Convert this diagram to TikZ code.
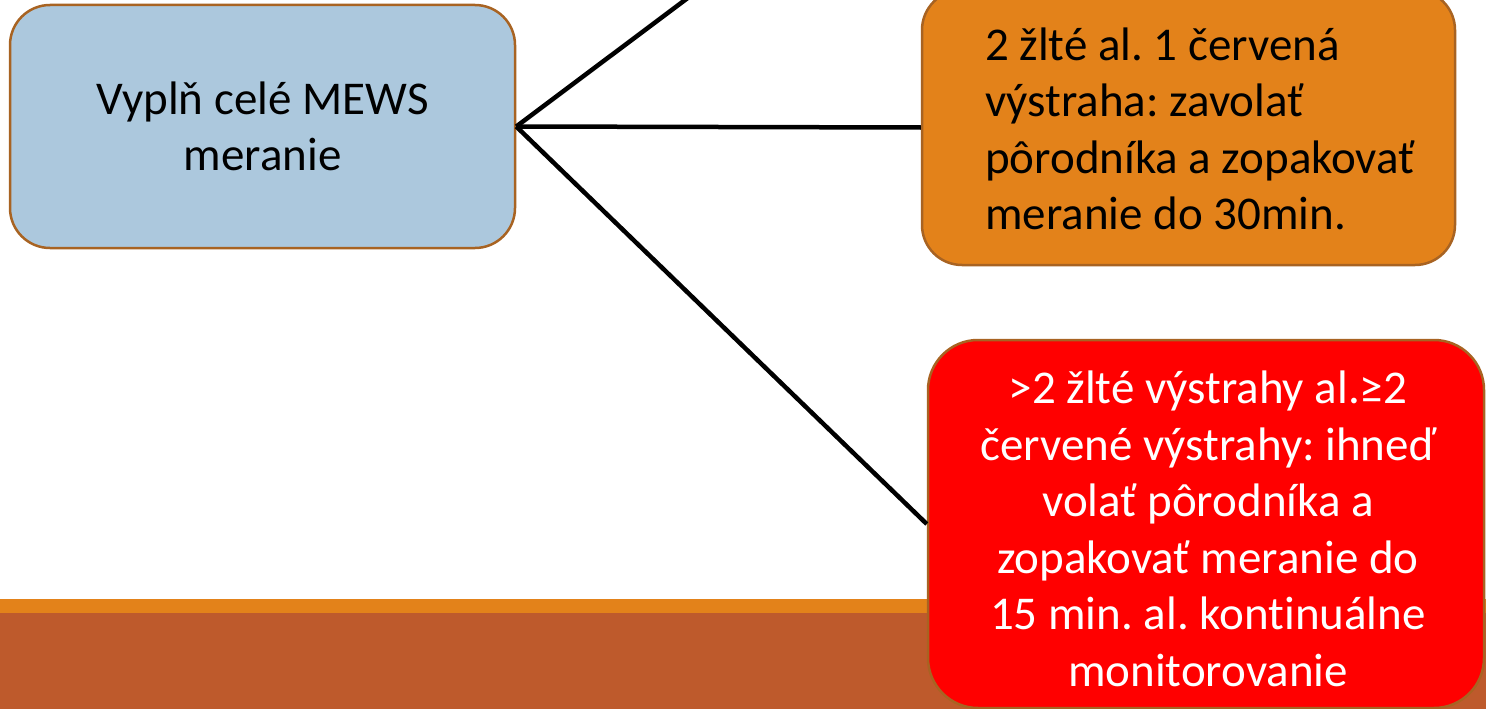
\documentclass[tikz,border=0pt]{standalone}
\usepackage{fontspec}
\setmainfont{Carlito}[Ligatures=NoCommon]
\frenchspacing
\definecolor{blueFill}{HTML}{ACC8DD}
\definecolor{boxLine}{HTML}{A86322}
\definecolor{orangeFill}{HTML}{E3821A}
\definecolor{redFill}{HTML}{FF0000}
\definecolor{bandOrange}{HTML}{E3821A}
\definecolor{bandBrown}{HTML}{BE5A2C}
\begin{document}
\begin{tikzpicture}[x=1pt,y=-1pt,
  box/.style={draw=boxLine, line width=2.5pt, rounded corners=40pt, inner sep=0pt},
  txt/.style={font=\fontsize{47}{56.5}\selectfont, inner sep=0pt},
  conn/.style={line width=4.5pt, draw=black}]
\useasboundingbox (0,0) rectangle (1486,709);
\clip (0,0) rectangle (1486,709);
\fill[bandOrange] (0,599) rectangle (1486,613);
\fill[bandBrown] (0,613) rectangle (1486,709);
\node[box, fill=blueFill, minimum width=505pt, minimum height=243pt, txt, align=center] (mews) at (262.5,126.5) {Vyplň celé MEWS\\meranie};
\node[box, fill=orangeFill, minimum width=533pt, minimum height=275pt] (yellow) at (1188.5,127.5) {};
\node[txt, anchor=west, align=left] (yellowtext) at (985,129) {2 žlté al. 1 červená\\výstraha: zavolať\\pôrodníka a zopakovať\\meranie do 30min.};
\node[box, fill=redFill, rounded corners=50pt, minimum width=556pt, minimum height=368pt] (red) at (1206,524) {};
\node[txt, text=white, align=center] (redtext) at (1208,529) {>2 žlté výstrahy al.≥2\\červené výstrahy: ihneď\\volať pôrodníka a\\zopakovať meranie do\\15 min. al. kontinuálne\\monitorovanie};
\coordinate (topend) at (702,-12.7);
\draw[conn] (mews.east) -- (topend);
\draw[conn] (mews.east) -- (yellow.west);
\draw[conn] (mews.east) -- (red.west);
\end{tikzpicture}
\end{document}
